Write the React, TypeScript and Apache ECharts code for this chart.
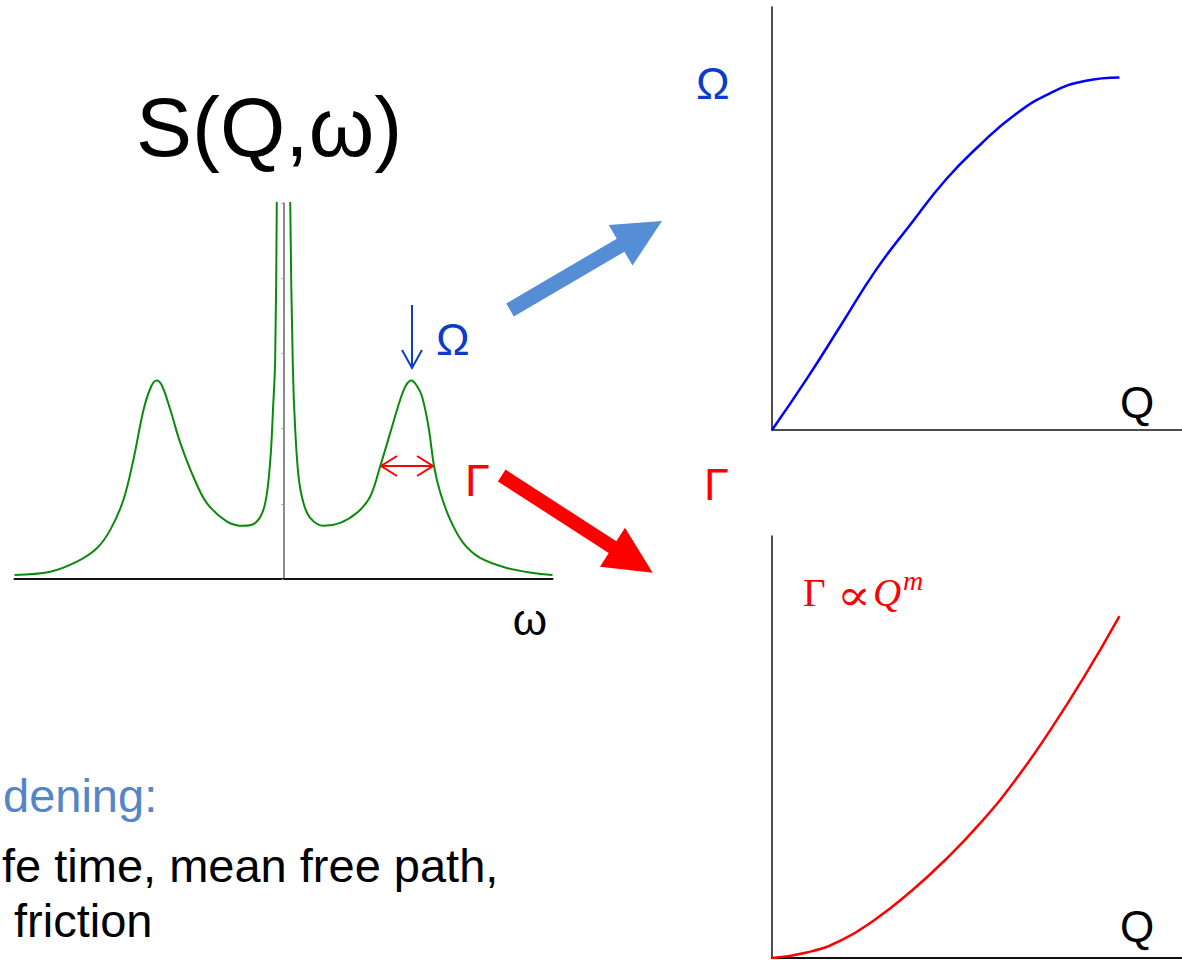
import React, { useEffect, useRef } from "react";
import * as echarts from "echarts";

// S(Q,ω) spectrum: central quasi-elastic line plus two inelastic side peaks at ±Ω
const omega = [
  -10.0, -8.67, -7.68, -6.94, -6.44, -5.95, -5.58, -5.2, -4.92, -4.72, -4.52, -4.21, -3.84, -3.35, -2.85,
  -2.1, -1.49, -0.99, -0.68, -0.49, -0.39, -0.31, -0.25, -0.18, 0, 0.18, 0.25, 0.35, 0.43, 0.56, 0.74,
  0.99, 1.49, 2.11, 2.73, 3.22, 3.59, 3.97, 4.34, 4.55, 4.75, 4.95, 5.15, 5.39, 5.6, 5.83, 6.2, 6.68,
  7.31, 8.3, 9.28, 10.0,
];
const sqw = [
  0.04, 0.073, 0.173, 0.307, 0.49, 0.79, 1.19, 1.69, 1.92, 1.98, 1.93, 1.69, 1.36, 1.02, 0.757,
  0.573, 0.53, 0.573, 0.757, 1.19, 1.69, 2.19, 3.76, 8, 20, 8, 3.76, 2.09, 1.52, 1.02, 0.76,
  0.61, 0.53, 0.56, 0.66, 0.82, 1.12, 1.46, 1.79, 1.93, 1.98, 1.93, 1.82, 1.52, 1.12, 0.86, 0.59, 0.36,
  0.21, 0.11, 0.06, 0.04,
];

// Dispersion Ω(Q)
const qDisp = [0, 0.1, 0.2, 0.3, 0.4, 0.5, 0.6, 0.7, 0.8, 0.9, 1.0];
const omegaDisp = [0, 0.145, 0.3, 0.455, 0.585, 0.71, 0.81, 0.895, 0.955, 0.99, 1.0];

// Damping Γ(Q)
const qDamp = [0, 0.1, 0.2, 0.3, 0.4, 0.5, 0.6, 0.7, 0.8, 0.9, 1.0];
const gammaDamp = [0, 0.016, 0.052, 0.115, 0.195, 0.288, 0.395, 0.52, 0.665, 0.825, 1.0];

const SANS = '"Liberation Sans", Arial, sans-serif';
const SERIF = '"Liberation Serif", "Times New Roman", "DejaVu Serif", serif';
const BLUE_TXT = "#0a3dcc";
const RED = "#ff0000";

const zip = (a: number[], b: number[]) => a.map((v, i) => [v, b[i]]);

function label(text: string, x: number, y: number, size: number, fill: string, extra: any = {}) {
  return {
    type: "text",
    x,
    y,
    scaleX: extra.scaleX || 1,
    scaleY: extra.scaleY || 1,
    silent: true,
    style: {
      text,
      fill,
      font: `${extra.style || "normal"} ${size}px ${extra.family || SANS}`,
      textAlign: extra.align || "left",
      textVerticalAlign: "middle",
    },
  };
}

export default function App() {
  const ref = useRef<HTMLDivElement>(null);

  useEffect(() => {
    document.body.style.margin = "0";
    const chart = echarts.init(ref.current!, null, { renderer: "svg" });

    const hiddenAxis = {
      axisLabel: { show: false },
      splitLine: { show: false },
      axisTick: { show: false },
    };

    chart.setOption({
      animation: false,
      backgroundColor: "#ffffff",
      grid: [
        { left: 14.5, top: 203, width: 538, height: 376 },
        { left: 772, top: 7, width: 410, height: 423 },
        { left: 772, top: 536, width: 410, height: 422 },
      ],
      xAxis: [
        {
          gridIndex: 0, type: "value", min: -10, max: 10, ...hiddenAxis,
          axisLine: { show: true, onZero: true, lineStyle: { color: "#111", width: 2 } },
        },
        {
          gridIndex: 1, type: "value", min: 0, max: 1.18, ...hiddenAxis,
          axisLine: { show: true, lineStyle: { color: "#111", width: 1.5 } },
        },
        {
          gridIndex: 2, type: "value", min: 0, max: 1.18, ...hiddenAxis,
          axisLine: { show: true, lineStyle: { color: "#111", width: 2 } },
        },
      ],
      yAxis: [
        {
          gridIndex: 0, type: "value", min: 0, max: 3.75, interval: 0.75,
          axisLabel: { show: false }, splitLine: { show: false },
          axisTick: { show: true, length: 2, lineStyle: { color: "#999", width: 1 } },
          axisLine: { show: true, onZero: true, lineStyle: { color: "#666", width: 1.5 } },
        },
        {
          gridIndex: 1, type: "value", min: 0, max: 1.2, ...hiddenAxis,
          axisLine: { show: true, lineStyle: { color: "#111", width: 1.5 } },
        },
        {
          gridIndex: 2, type: "value", min: 0, max: 1.234, ...hiddenAxis,
          axisLine: { show: true, lineStyle: { color: "#111", width: 1.5 } },
        },
      ],
      series: [
        {
          type: "line", xAxisIndex: 0, yAxisIndex: 0, data: zip(omega, sqw),
          showSymbol: false, smooth: 0.35, clip: true,
          lineStyle: { color: "#0a8a0a", width: 2 }, silent: true,
        },
        {
          type: "line", xAxisIndex: 1, yAxisIndex: 1, data: zip(qDisp, omegaDisp),
          showSymbol: false, smooth: 0.5,
          lineStyle: { color: "#0000ff", width: 2.5 }, silent: true,
        },
        {
          type: "line", xAxisIndex: 2, yAxisIndex: 2, data: zip(qDamp, gammaDamp),
          showSymbol: false, smooth: 0.5,
          lineStyle: { color: RED, width: 2.5 }, silent: true,
        },
      ],
      graphic: [
        label("S(Q,ω)", 136, 127, 84, "#000"),
        label("ω", 530, 619, 44, "#000", { align: "center" }),
        label("Ω", 436, 339, 45, BLUE_TXT),
        label("Γ", 465, 480, 45, RED),
        label("Ω", 696, 83, 45, BLUE_TXT),
        label("Γ", 704, 484, 45, RED),
        label("Q", 1120, 402, 44, "#000"),
        label("Q", 1120, 926, 44, "#000"),
        label("Γ", 803, 592, 39, RED, { family: SERIF }),
        label("∝", 837, 595, 36, RED, { family: '"DejaVu Serif", serif', scaleX: 1.4, scaleY: 1.2 }),
        label("Q", 873, 592, 39, RED, { family: SERIF, style: "italic" }),
        label("m", 903, 580, 28, RED, { family: SERIF, style: "italic" }),
        label("dening:", 3, 795, 47, "#5585c5"),
        label("fe time, mean free path,", 2, 865, 47, "#000"),
        label("friction", 14, 920, 47, "#000"),
        // peak-position marker
        {
          type: "line", silent: true,
          shape: { x1: 412, y1: 305, x2: 412, y2: 366 },
          style: { stroke: BLUE_TXT, lineWidth: 2 },
        },
        {
          type: "polyline", silent: true,
          shape: { points: [[402, 350], [412, 368], [422, 350]] },
          style: { stroke: BLUE_TXT, lineWidth: 2, fill: null },
        },
        // linewidth marker
        {
          type: "line", silent: true,
          shape: { x1: 381, y1: 466, x2: 433, y2: 466 },
          style: { stroke: RED, lineWidth: 2 },
        },
        {
          type: "polyline", silent: true,
          shape: { points: [[397, 456], [381, 466], [397, 476]] },
          style: { stroke: RED, lineWidth: 2, fill: null },
        },
        {
          type: "polyline", silent: true,
          shape: { points: [[417, 456], [433, 466], [417, 476]] },
          style: { stroke: RED, lineWidth: 2, fill: null },
        },
        // block arrows to the Ω(Q) and Γ(Q) panels
        {
          type: "polygon", silent: true,
          shape: {
            points: [
              [513.8, 316.5], [624.4, 251.7], [632.5, 265.5], [662, 221],
              [608.7, 224.9], [616.8, 238.7], [506.2, 303.5],
            ],
          },
          style: { fill: "#558ed5" },
        },
        {
          type: "polygon", silent: true,
          shape: {
            points: [
              [505.5, 469.6], [616.3, 541.3], [625, 527.7], [652.7, 572.7],
              [600, 566.7], [608.7, 553.1], [497.9, 481.4],
            ],
          },
          style: { fill: RED },
        },
      ],
    });

    return () => chart.dispose();
  }, []);

  return <div ref={ref} style={{ width: 1182, height: 960 }} />;
}
